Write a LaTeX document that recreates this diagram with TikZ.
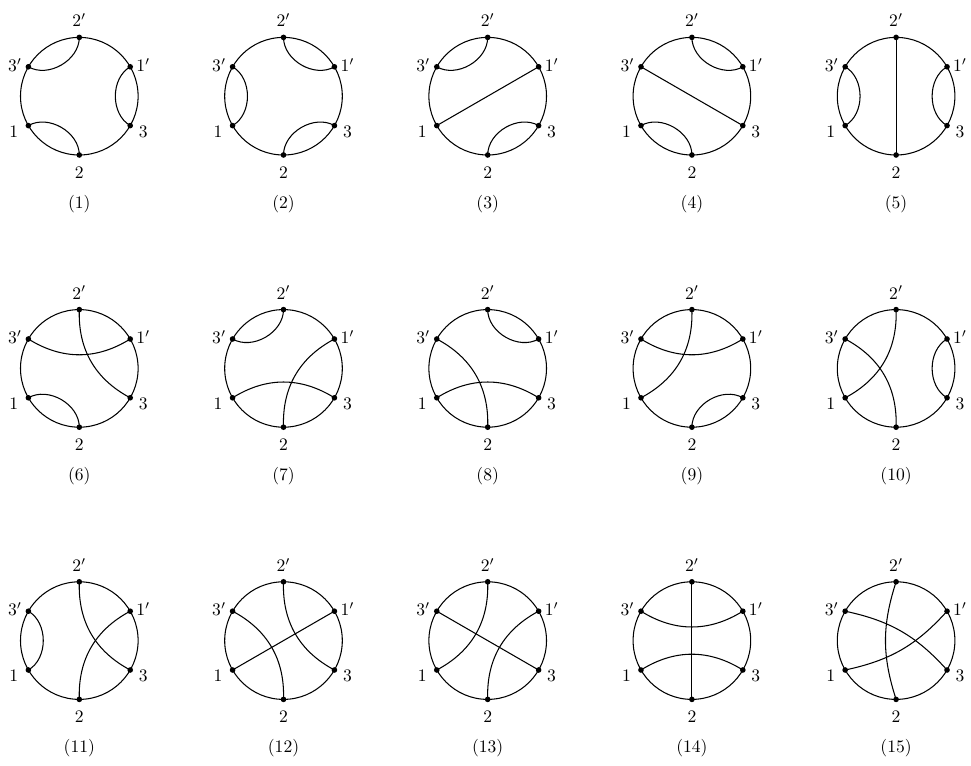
\documentclass[tikz,border=0pt]{standalone}
\usetikzlibrary{calc}
\tikzset{
  rim/.style={line width=0.6pt},
  chord/.style={line width=0.6pt},
  pt/.style={circle,fill,inner sep=0pt,minimum size=3.2pt},
  lab/.style={inner sep=0pt},
}
\newcommand\frm[4]{%
  \draw[rim] (#2,#3) circle[radius=58.8];
  \node[pt] (#1A) at ($(#2,#3)+(90:58.8)$) {};
  \node[pt] (#1B) at ($(#2,#3)+(30:58.8)$) {};
  \node[pt] (#1C) at ($(#2,#3)+(-30:58.8)$) {};
  \node[pt] (#1D) at ($(#2,#3)+(-90:58.8)$) {};
  \node[pt] (#1E) at ($(#2,#3)+(210:58.8)$) {};
  \node[pt] (#1F) at ($(#2,#3)+(150:58.8)$) {};
  \node[lab] (#1a) at ($(#1A)+(0,17)$) {$2'$};
  \node[lab] (#1b) at ($(#1B)+(13,2)$) {$1'$};
  \node[lab] (#1c) at ($(#1C)+(13,-6)$) {$3$};
  \node[lab] (#1d) at ($(#1D)+(0,-17.5)$) {$2$};
  \node[lab] (#1e) at ($(#1E)+(-14.5,-6)$) {$1$};
  \node[lab] (#1f) at ($(#1F)+(-13.5,2)$) {$3'$};
  \node[lab] (#1cap) at ($(#2,#3)+(0,-108)$) {(#4)};
}
\newcommand\chd[3]{\draw[chord] (#1.center) to[#3] (#2.center);}
\newcommand\strt[2]{\draw[chord] (#1.center) -- (#2.center);}
\begin{document}
\begin{tikzpicture}[x=0.02cm,y=0.02cm]
\useasboundingbox (0,0) rectangle (971,765);
% row 1
\frm{p1}{79.3}{668.8}{1}
\frm{p2}{283.5}{668.8}{2}
\frm{p3}{487.7}{668.8}{3}
\frm{p4}{691.9}{668.8}{4}
\frm{p5}{896.1}{668.8}{5}
% row 2
\frm{p6}{79.3}{396.6}{6}
\frm{p7}{283.5}{396.6}{7}
\frm{p8}{487.7}{396.6}{8}
\frm{p9}{691.9}{396.6}{9}
\frm{p10}{896.1}{396.6}{10}
% row 3
\frm{p11}{79.3}{124.4}{11}
\frm{p12}{283.5}{124.4}{12}
\frm{p13}{487.7}{124.4}{13}
\frm{p14}{691.9}{124.4}{14}
\frm{p15}{896.1}{124.4}{15}
% connections
\chd{p1A}{p1F}{bend left=60}\chd{p1C}{p1B}{bend left=60}\chd{p1E}{p1D}{bend left=60}
\chd{p2B}{p2A}{bend left=60}\chd{p2D}{p2C}{bend left=60}\chd{p2F}{p2E}{bend left=60}
\chd{p3A}{p3F}{bend left=60}\strt{p3E}{p3B}\chd{p3D}{p3C}{bend left=60}
\strt{p4F}{p4C}\chd{p4B}{p4A}{bend left=60}\chd{p4E}{p4D}{bend left=60}
\strt{p5A}{p5D}\chd{p5F}{p5E}{bend left=60}\chd{p5C}{p5B}{bend left=60}
\chd{p6B}{p6F}{bend left=32}\chd{p6C}{p6A}{bend left=32}\chd{p6E}{p6D}{bend left=60}
\chd{p7A}{p7F}{bend left=60}\chd{p7D}{p7B}{bend left=32}\chd{p7E}{p7C}{bend left=32}
\chd{p8B}{p8A}{bend left=60}\chd{p8F}{p8D}{bend left=32}\chd{p8E}{p8C}{bend left=32}
\chd{p9B}{p9F}{bend left=32}\chd{p9A}{p9E}{bend left=32}\chd{p9D}{p9C}{bend left=60}
\chd{p10F}{p10D}{bend left=32}\chd{p10A}{p10E}{bend left=32}\chd{p10C}{p10B}{bend left=60}
\chd{p11F}{p11E}{bend left=60}\chd{p11C}{p11A}{bend left=32}\chd{p11D}{p11B}{bend left=32}
\chd{p12F}{p12D}{bend left=32}\chd{p12C}{p12A}{bend left=32}\strt{p12E}{p12B}
\strt{p13F}{p13C}\chd{p13A}{p13E}{bend left=32}\chd{p13D}{p13B}{bend left=32}
\chd{p14B}{p14F}{bend left=32}\strt{p14A}{p14D}\chd{p14E}{p14C}{bend left=32}
\chd{p15F}{p15C}{bend left=18}\chd{p15E}{p15B}{bend right=18}\chd{p15A}{p15D}{bend right=18}
\end{tikzpicture}
\end{document}
